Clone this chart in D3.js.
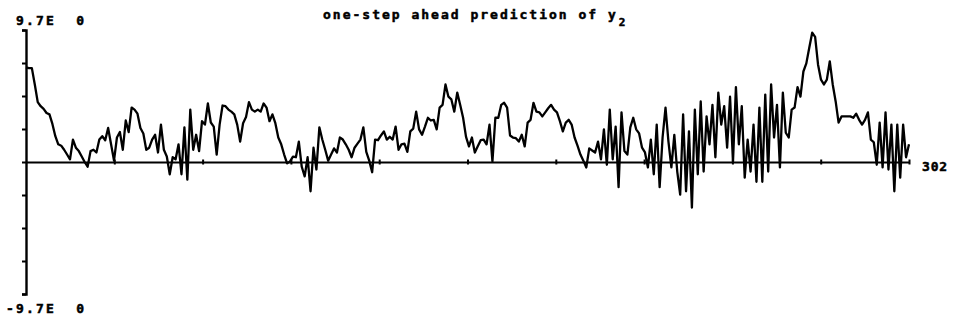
<!DOCTYPE html>
<html>
<head>
<meta charset="utf-8">
<script src="https://cdn.jsdelivr.net/npm/d3@7/dist/d3.min.js"></script>
<style>
  html, body { margin: 0; padding: 0; background: #fff; }
  svg text { font-family: "DejaVu Sans Mono", "Liberation Mono", monospace; font-weight: bold; fill: #000; stroke: #000; stroke-width: 0.5px; white-space: pre; }
</style>
</head>
<body>
<svg id="chart" width="954" height="322"></svg>
<script>
// ---- data ----
const titleText = "one-step ahead prediction of y";
const titleSub = "2";
const yMaxLabel = "9.7E  0";
const yMinLabel = "-9.7E  0";
const xEndLabel = "302";
const yLimit = 9.7;
const nPoints = 302;

const values = [
  6.95, 6.9, 6.9, 5.7, 4.4, 4.1, 3.9, 3.6, 3.5, 2.8,
  1.9, 1.3, 1.2, 0.9, 0.55, 0.2, 1.65, 1.05, 0.8, 0.4,
  0.0, -0.35, 0.8, 0.9, 0.7, 1.65, 1.9, 1.6, 2.5, 1.3,
  0.1, 1.8, 2.2, 0.9, 3.05, 2.2, 4.0, 3.85, 3.55, 2.5,
  2.1, 0.9, 1.05, 1.65, 2.0, 0.7, 2.75, 0.9, 0.4, -0.9,
  0.35, 0.2, 1.3, -0.9, 2.55, -1.3, 3.85, 0.9, 2.0, 0.8,
  3.0, 2.75, 4.3, 2.9, 2.6, 0.55, 2.75, 4.15, 4.1, 3.85,
  3.7, 3.5, 2.75, 1.5, 2.85, 3.3, 4.4, 3.85, 3.7, 3.85,
  3.7, 4.3, 4.0, 3.0, 3.5, 2.85, 1.8, 1.3, 0.55, -0.1,
  0.05, 0.4, 0.35, 1.5, -0.35, -1.05, 0.35, -2.15, 1.05, -0.55,
  2.55, 1.65, 0.9, 0.1, 0.55, 1.0, 0.7, 1.8, 1.65, 1.3,
  0.9, 0.35, 1.05, 1.35, 1.65, 2.55, 0.75, 0.1, -0.75, 1.65,
  1.6, 1.95, 2.25, 1.65, 1.85, 1.65, 2.6, 0.9, 1.3, 1.35,
  0.75, 2.25, 2.45, 3.7, 2.4, 2.0, 2.6, 3.25, 3.05, 3.1,
  2.4, 4.0, 4.2, 5.7, 4.8, 4.6, 3.7, 5.1, 4.2, 3.25,
  1.85, 1.15, 1.8, 0.7, 1.15, 1.6, 1.65, 1.3, 2.75, 0.05,
  3.25, 3.25, 4.2, 4.35, 4.0, 1.95, 1.8, 1.75, 1.5, 2.0,
  1.15, 2.9, 3.1, 4.35, 3.7, 3.65, 3.35, 3.65, 3.95, 4.2,
  3.85, 3.65, 3.0, 2.25, 2.9, 3.1, 2.75, 1.8, 1.2, 0.55,
  0.1, -0.4, 1.0, 0.85, 0.7, 1.5, 0.2, 2.4, -0.2, 3.85,
  0.2, 2.6, -1.85, 3.65, 0.8, 0.55, 2.55, 3.25, 2.4, 2.1,
  1.05, 0.7, -0.4, 1.65, -0.9, 2.75, -1.85, 1.8, 4.0, 1.5,
  -0.4, 2.0, -0.7, -2.4, 3.5, -2.15, 2.25, -3.35, 3.85, -0.9,
  4.45, -0.7, 3.35, 1.3, 4.2, 0.35, 5.1, 2.75, 4.1, 1.05,
  4.8, 0.0, 5.5, 1.3, 4.1, -1.15, 1.65, -0.7, 2.75, -1.45,
  4.0, -1.45, 4.95, -0.7, 5.7, 1.8, 4.2, -0.4, 5.1, 2.15,
  1.8, 3.85, 4.0, 5.5, 4.8, 6.65, 7.25, 8.4, 9.5, 9.2,
  7.15, 6.05, 5.7, 6.05, 7.4, 5.7, 4.45, 2.9, 3.35, 3.35,
  3.35, 3.35, 3.25, 3.55, 3.1, 2.75, 3.1, 3.65, 1.65, 1.45,
  -0.2, 2.9, -0.4, 3.65, -0.55, 2.75, -2.15, 2.75, -1.15, 2.75,
  0.35, 1.3
];
const yTickValues = [-9.7, -7.275, -4.85, -2.425, 0, 2.425, 4.85, 7.275, 9.7];
const xTickCount = 10;

// ---- drawing ----
const svg = d3.select("#chart");
const x = d3.scaleLinear().domain([1, nPoints]).range([26, 909]);
const y = d3.scaleLinear().domain([-yLimit, yLimit]).range([294, 30]);

const ink = "#000";

// y axis
const yAxis = d3.axisLeft(y).tickValues(yTickValues).tickSize(4).tickFormat("");
const gy = svg.append("g").attr("transform", "translate(26,0)").call(yAxis);
gy.select(".domain").attr("stroke", ink).attr("stroke-width", 2.4);
gy.selectAll(".tick line").attr("stroke", ink).attr("stroke-width", 2);

// x axis at zero
const xTickValues = d3.range(1, xTickCount + 1).map(k => 1 + k * (nPoints - 1) / xTickCount);
const xAxis = d3.axisBottom(x).tickValues(xTickValues).tickSizeInner(2.5).tickSizeOuter(0).tickFormat("");
const gx = svg.append("g").attr("transform", `translate(0,${y(0)})`).call(xAxis);
gx.select(".domain").attr("stroke", ink).attr("stroke-width", 2.2);
gx.selectAll(".tick line").attr("stroke", ink).attr("stroke-width", 2).attr("y1", -2.5);

// series
const line = d3.line().x((d, i) => x(i + 1)).y(d => y(d));
svg.append("path")
  .datum(values)
  .attr("d", line)
  .attr("fill", "none")
  .attr("stroke", ink)
  .attr("stroke-width", 2.3)
  .attr("stroke-linejoin", "round");

// labels
svg.append("text").attr("x", 16).attr("y", 25).attr("font-size", 13)
  .attr("letter-spacing", 2.2).text(yMaxLabel);
svg.append("text").attr("x", 6).attr("y", 313).attr("font-size", 13)
  .attr("letter-spacing", 2.2).text(yMinLabel);
svg.append("text").attr("x", 922).attr("y", 171).attr("font-size", 13)
  .attr("letter-spacing", 0.8).text(xEndLabel);

const title = svg.append("text").attr("x", 323).attr("y", 19).attr("font-size", 13)
  .attr("letter-spacing", 2.0);
title.append("tspan").text(titleText);
title.append("tspan").attr("font-size", 11).attr("dy", 7).attr("dx", 1).text(titleSub);
</script>
</body>
</html>
